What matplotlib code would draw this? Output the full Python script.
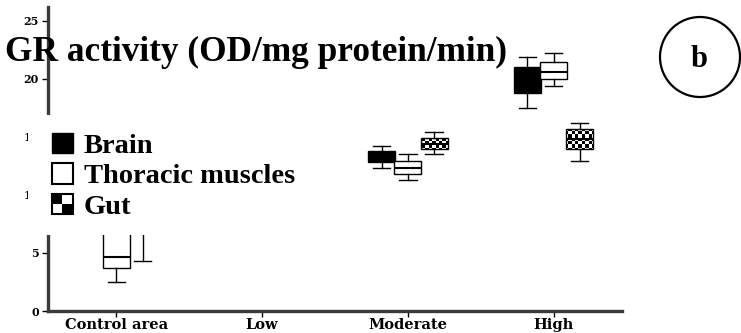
import numpy as np
import matplotlib
matplotlib.use("Agg")
import matplotlib.pyplot as plt
from matplotlib.patches import Patch, Rectangle, Ellipse
from matplotlib.legend_handler import HandlerBase

categories = ["Control area", "Low", "Moderate", "High"]
series = ["Brain", "Thoracic muscles", "Gut"]

# box stats per category: whisker low, q1, median, q3, whisker high (None = no data)
brain = [(7.2, 8.0, 8.8, 9.6, 10.5), None,
         (12.3, 12.8, 13.3, 13.8, 14.25), (17.5, 18.8, 20.0, 21.05, 21.9)]
thoracic = [(2.5, 3.7, 4.65, 7.2, 8.6), None,
            (11.3, 11.85, 12.35, 12.95, 13.5), (19.35, 20.0, 20.6, 21.45, 22.2)]
gut = [(4.3, 7.0, 8.0, 9.0, 10.2), None,
       (13.55, 13.95, 14.4, 14.95, 15.45), (12.9, 13.95, 14.8, 15.65, 16.2)]

offsets = [-0.18, 0.0, 0.18]
yticks = [0, 5, 10, 15, 20, 25]

W, H = 741, 333
fig = plt.figure(figsize=(W / 100, H / 100), dpi=100)
ax = fig.add_axes([48 / W, 22 / H, (622 - 48) / W, (311 - 7) / H])

serif = "Liberation Serif"
box_patches = {}
for name, data, off in zip(series, [brain, thoracic, gut], offsets):
    stats, pos = [], []
    for i, d in enumerate(data):
        if d is None:
            continue
        lo, q1, med, q3, hi = d
        stats.append(dict(whislo=lo, q1=q1, med=med, q3=q3, whishi=hi))
        pos.append(i + off)
    fc = {"Brain": "black", "Thoracic muscles": "white", "Gut": "none"}[name]
    res = ax.bxp(stats, positions=pos, widths=0.185, showfliers=False,
                 patch_artist=True, capwidths=0.12,
                 boxprops=dict(facecolor=fc, edgecolor="black", linewidth=1),
                 medianprops=dict(color="black", linewidth=1.5),
                 whiskerprops=dict(color="black", linewidth=1),
                 capprops=dict(color="black", linewidth=1))
    box_patches[name] = res["boxes"]

xlim = (-0.47, 3.47)
ylim = (0, 26.2)

# checkerboard fill for the gut boxes
cell = 3.4
nx = int(574 / cell) + 1
ny = int(304 / cell) + 1
checker = (np.add.outer(np.arange(ny), np.arange(nx)) % 2).astype(float)
for b in box_patches["Gut"]:
    im = ax.imshow(checker, cmap="gray",
                   extent=(xlim[0], xlim[0] + nx * cell / 574 * (xlim[1] - xlim[0]),
                           0, ny * cell / 304 * ylim[1]),
                   origin="lower", aspect="auto", interpolation="nearest", zorder=1.5)
    im.set_clip_path(b)
ax.set_xlim(*xlim)
ax.set_ylim(*ylim)

ax.set_xticks(range(len(categories)))
ax.set_xticklabels(categories, family="DejaVu Serif", fontweight="bold", fontsize=10.5)
ax.set_yticks(yticks)
ax.set_yticklabels([str(t) for t in yticks], family="DejaVu Serif", fontweight="bold", fontsize=8)
ax.tick_params(axis="both", direction="out", length=4, width=1, pad=1)
ax.tick_params(axis="y", pad=2.5)
for s in ["top", "right"]:
    ax.spines[s].set_visible(False)
for s in ["left", "bottom"]:
    ax.spines[s].set_linewidth(2.4)
    ax.spines[s].set_color("#3a3a3a")


class CheckerHandler(HandlerBase):
    def create_artists(self, legend, orig_handle, xdescent, ydescent,
                       width, height, fontsize, trans):
        w2, h2 = width / 2, height / 2
        x0, y0 = -xdescent, -ydescent
        arts = []
        for dx, dy, c in [(0, h2, "black"), (w2, h2, "white"),
                          (0, 0, "white"), (w2, 0, "black")]:
            arts.append(Rectangle((x0 + dx, y0 + dy), w2, h2, facecolor=c,
                                  edgecolor="none", transform=trans))
        arts.append(Rectangle((x0, y0), width, height, facecolor="none",
                              edgecolor="black", linewidth=1.5, transform=trans))
        return arts


# white block behind the legend (it hides part of the axis in the original)
ax.add_patch(Rectangle((28 / W, 1 - 235 / H), 272 / W, 120 / H, transform=fig.transFigure,
                       facecolor="white", edgecolor="none", zorder=9, clip_on=False))

gut_handle = Patch(label="Gut")
handles = [Patch(facecolor="black", edgecolor="black", label="Brain"),
           Patch(facecolor="white", edgecolor="black", linewidth=1.5, label="Thoracic muscles"),
           gut_handle]
leg = ax.legend(handles=handles, handler_map={gut_handle: CheckerHandler()},
                loc="upper left", bbox_to_anchor=(52 / W, 1 - 133 / H),
                bbox_transform=fig.transFigure,
                prop=dict(family=serif, weight="bold", size=20.5),
                handlelength=0.72, handleheight=0.72, handletextpad=0.4,
                labelspacing=0.15, borderpad=0, borderaxespad=0, frameon=False)
leg.set_zorder(10)

fig.text(5 / W, 1 - 61 / H, "GR activity (OD/mg protein/min)", family=serif,
         fontweight="bold", fontsize=25.4, ha="left", va="baseline")
fig.patches.append(Ellipse((700 / W, 1 - 57 / H), 80 / W, 80 / H, facecolor="none",
                           edgecolor="black", linewidth=1.6, transform=fig.transFigure))
fig.text(699 / W, 1 - 67 / H, "b", family=serif, fontweight="bold", fontsize=22,
         ha="center", va="baseline")

fig.savefig("out.png", dpi=100)
